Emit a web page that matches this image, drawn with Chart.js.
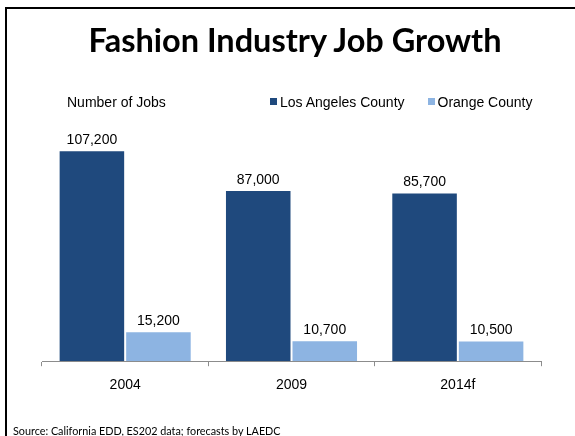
<!DOCTYPE html>
<html>
<head>
<meta charset="utf-8">
<title>Fashion Industry Job Growth</title>
<script src="https://cdn.jsdelivr.net/npm/chart.js@4"></script>
<style>
  html, body { margin: 0; padding: 0; background: #fff; }
  #page { position: relative; width: 575px; height: 436px; overflow: hidden; }
  #frame { position: absolute; left: 5px; top: 7px; width: 600px; height: 500px;
           border-left: 2px solid #000; border-top: 2px solid #000; }
  #title { position: absolute; left: 0; width: 590px; top: 20px; text-align: center;
           font: bold 32.5px Lato, sans-serif; color: #000; }
  #ylabel { position: absolute; left: 67px; top: 94px;
            font: 14px "Liberation Sans", Arial, sans-serif; color: #000; }
  #legend { position: absolute; left: 270px; top: 94px;
            font: 14px "Liberation Sans", Arial, sans-serif; color: #000; white-space: nowrap; }
  #legend span.box { display: inline-block; width: 7px; height: 7px; margin-right: 3px; vertical-align: 2px; }
  #legend span.item { margin-right: 23px; }
  #source { position: absolute; left: 13px; top: 424px;
            font: 10.8px Lato, sans-serif; color: #000; white-space: nowrap; }
  canvas { position: absolute; left: 0; top: 0; }
</style>
</head>
<body>
<div id="page">
  <div id="frame"></div>
  <canvas id="myChart" width="575" height="436"></canvas>
  <div id="title">Fashion Industry Job Growth</div>
  <div id="ylabel">Number of Jobs</div>
  <div id="legend"></div>
  <div id="source">Source: California EDD, ES202 data; forecasts by LAEDC</div>
</div>
<script>
// jobs by year
let years = ["2004", "2009", "2014f"];
let losAngeles = [107200, 87000, 85700];
let orange = [15200, 10700, 10500];
let seriesNames = ["Los Angeles County", "Orange County"];
let barColors = ["#1F497D", "#8DB4E2"];

// legend in html
let legend = document.getElementById("legend");
for (let i = 0; i < seriesNames.length; i++) {
  legend.innerHTML += `<span class="item"><span class="box" style="background:${barColors[i]}"></span>${seriesNames[i]}</span>`;
}

// value labels above each bar
const valueLabels = {
  id: "valueLabels",
  afterDatasetsDraw(chart) {
    let ctx = chart.ctx;
    ctx.save();
    ctx.font = '14px "Liberation Sans", Arial, sans-serif';
    ctx.fillStyle = "#000";
    ctx.textAlign = "center";
    ctx.textBaseline = "bottom";
    chart.data.datasets.forEach((ds, i) => {
      chart.getDatasetMeta(i).data.forEach((bar, j) => {
        ctx.fillText(ds.data[j].toLocaleString("en-US"), bar.x, bar.y - 3);
      });
    });
    ctx.restore();
  }
};

new Chart("myChart", {
  type: "bar",
  data: {
    labels: years,
    datasets: [
      { label: seriesNames[0], data: losAngeles, backgroundColor: barColors[0],
        borderColor: "#fff", borderWidth: 1 },
      { label: seriesNames[1], data: orange, backgroundColor: barColors[1],
        borderColor: "#fff", borderWidth: 1 }
    ]
  },
  options: {
    responsive: false,
    animation: false,
    events: [],
    categoryPercentage: 0.8,
    barPercentage: 1.0,
    layout: { padding: { left: 42, right: 34, top: 125, bottom: 31 } },
    plugins: {
      legend: { display: false },
      title: { display: false },
      tooltip: { enabled: false }
    },
    scales: {
      x: {
        border: { color: "#8c8c8c", width: 1 },
        grid: { color: "#8c8c8c", drawOnChartArea: false, tickLength: 5, offset: true },
        ticks: { color: "#000", padding: 11, font: { size: 14, family: '"Liberation Sans", Arial, sans-serif' } }
      },
      y: {
        display: false,
        min: 0,
        max: 120000
      }
    }
  },
  plugins: [valueLabels]
});
</script>
</body>
</html>
